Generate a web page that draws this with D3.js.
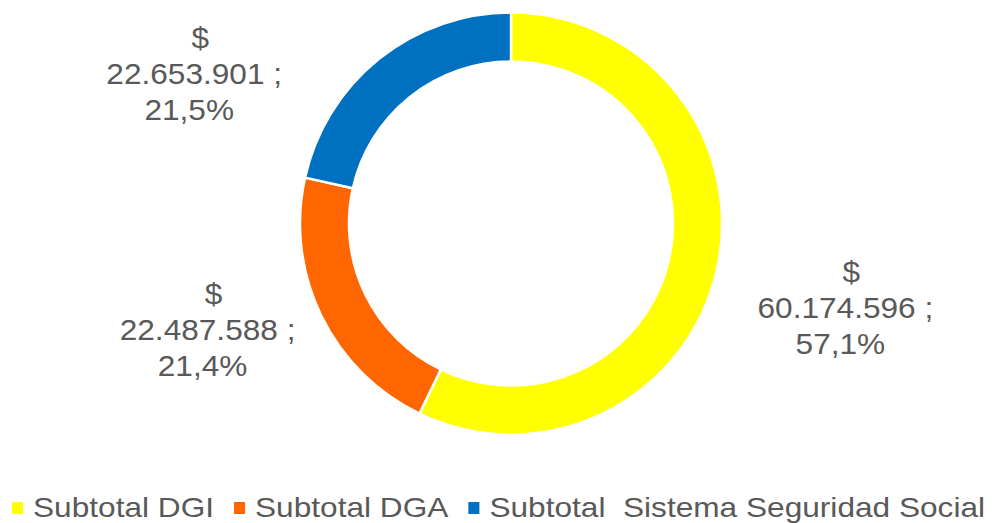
<!DOCTYPE html>
<html>
<head>
<meta charset="utf-8">
<script src="https://cdn.jsdelivr.net/npm/d3@7"></script>
<style>
  body { margin: 0; background: #fff; }
  text { font-family: "Liberation Sans", Arial, sans-serif; fill: #595959; }
</style>
</head>
<body>
<div id="chart"></div>
<script>
// datos
var categorias = ["Subtotal DGI", "Subtotal DGA", "Subtotal  Sistema Seguridad Social"];
var valores = [60174596, 22487588, 22653901];
var colores = ["#FFFF00", "#FF6600", "#0070C0"];

var W = 992, H = 523;
var cx = 511, cy = 223.5;
var outerR = 211, innerR = 162;
var fontSize = 29, stretch = 1.09, lineH = 36;
var legFont = 28.5, legStretch = 1.11;

// ajuste de las etiquetas respecto al centroide (Excel "best fit")
var labelR = 345;
var nudges = [[-2, 18], [7, -34], [-101, 130]];

var svg = d3.select("#chart").append("svg")
  .attr("width", W)
  .attr("height", H);

var total = d3.sum(valores);

var pie = d3.pie().sort(null).value(function(d){ return d; });
var arcs = pie(valores);

var arc = d3.arc().innerRadius(innerR).outerRadius(outerR);
var labelArc = d3.arc().innerRadius(labelR).outerRadius(labelR);

var g = svg.append("g").attr("transform", "translate(" + cx + "," + cy + ")");

g.selectAll("path.slice")
  .data(arcs)
  .enter()
  .append("path")
  .attr("class", "slice")
  .attr("d", arc)
  .attr("fill", function(d, i){ return colores[i]; })
  .attr("stroke", "#fff")
  .attr("stroke-width", 2.5);

var fmtNum = function(v){
  return d3.format(",")(v).replace(/,/g, ".");
};
var fmtPct = function(v){
  return d3.format(".1f")(v * 100).replace(".", ",") + "%";
};

//************************************************************
// etiquetas
//************************************************************
var lineDx = [6, 0, -5];

arcs.forEach(function(d, i){
  var c = labelArc.centroid(d);
  var x = c[0] + nudges[i][0];
  var y = c[1] + nudges[i][1];
  var lines = ["$", fmtNum(d.value) + " ;", fmtPct(d.value / total)];

  var lg = g.append("g")
    .attr("transform", "translate(" + x + "," + y + ") scale(" + stretch + ",1)");

  lines.forEach(function(t, k){
    lg.append("text")
      .attr("x", lineDx[k] / stretch)
      .attr("y", (k - 1) * lineH)
      .attr("text-anchor", "middle")
      .style("font-size", fontSize + "px")
      .text(t);
  });
});

//************************************************************
// leyenda
//************************************************************
var legY = 517, markSize = 11, x0 = 12, gapMark = 21, gapItem = 20;
var xPos = x0;

categorias.forEach(function(name, i){
  svg.append("rect")
    .attr("x", xPos)
    .attr("y", legY - 15)
    .attr("width", markSize)
    .attr("height", markSize + 1)
    .attr("fill", colores[i]);

  var tg = svg.append("g")
    .attr("transform", "translate(" + (xPos + gapMark) + "," + legY + ") scale(" + legStretch + ",1)");
  var t = tg.append("text")
    .attr("x", 0)
    .attr("y", 0)
    .style("font-size", legFont + "px")
    .style("white-space", "pre")
    .text(name);

  var w = t.node().getComputedTextLength() * legStretch;
  xPos = xPos + gapMark + w + gapItem;
});
</script>
</body>
</html>
